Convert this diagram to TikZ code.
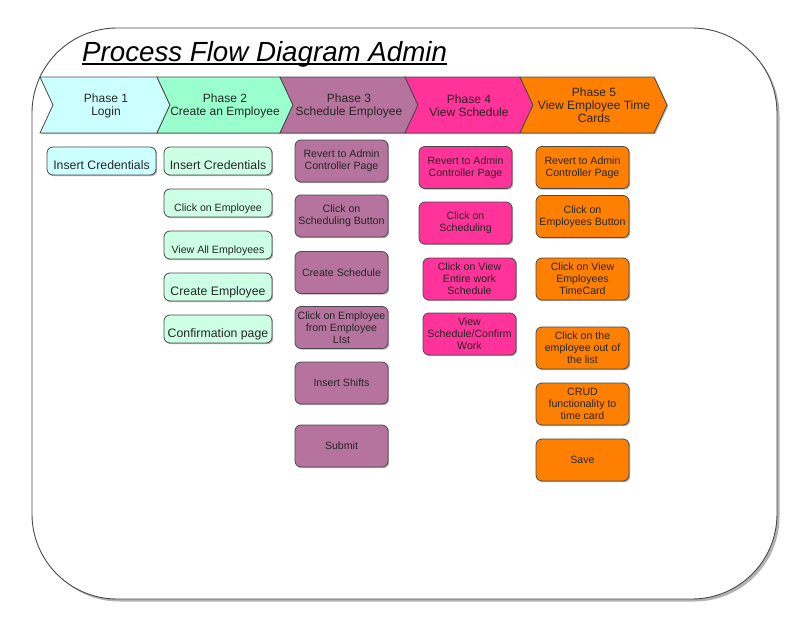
\documentclass[tikz,border=0pt]{standalone}
\usepackage{fontspec}
\setmainfont{Liberation Sans}
\usetikzlibrary{shadows}
\definecolor{pone}{HTML}{CCFFFF}
\definecolor{ptwo}{HTML}{99FFCC}
\definecolor{ptwobox}{HTML}{CCFFE6}
\definecolor{pthree}{HTML}{B5739D}
\definecolor{pfour}{HTML}{FF3399}
\definecolor{pfive}{HTML}{FF8000}
\definecolor{txt}{HTML}{262626}
\definecolor{edge}{HTML}{4A4A4A}
\newcommand{\lowtext}[1]{\raisebox{-8.2pt}[0pt][0pt]{#1}}
\newcommand{\lowsmall}[1]{\raisebox{-8.6pt}[0pt][0pt]{#1}}
\tikzset{
  shade3/.style={drop shadow={shadow xshift=1.2pt,shadow yshift=-1.2pt,fill=black,opacity=0.3}},
  chev/.style={draw=edge,line width=0.8pt,shade3},
  phasetext/.style={text=txt,align=center,inner sep=0pt,font=\fontsize{12}{12.8}\selectfont},
  stepbox/.style={draw=edge,line width=0.8pt,rounded corners=6pt,text=txt,align=center,inner sep=1pt,shade3},
  bigtext/.style={font=\fontsize{12.3}{13}\selectfont},
  smalltext/.style={font=\fontsize{10.6}{12}\selectfont},
  wA/.style={minimum width=109pt,minimum height=28pt},
  wB/.style={minimum width=108pt,minimum height=28pt},
  wC/.style={minimum width=93pt,minimum height=42pt},
}
\begin{document}
\begin{tikzpicture}[x=1pt,y=-1pt]
\useasboundingbox (0,0) rectangle (812,621);
% outer frame with shadow
\fill[black!30,rounded corners=85pt] (34.5,30.5) rectangle (779.5,601.5);
\draw[edge,fill=white,line width=0.9pt,rounded corners=85pt] (32,28) rectangle (777,599);
% title
\node[anchor=base west,inner sep=0pt,text=black] (title) at (82,61.5) {\fontsize{27.7}{30}\selectfont\itshape Process Flow Diagram Admin};
\draw[line width=1.3pt] ([yshift=-2.6pt]title.base west) -- ([yshift=-2.6pt]title.base east);
% phase chevrons
\draw[chev,fill=pone] (40,77) -- (157,77) -- (170,105) -- (157,133) -- (40,133) -- (53,105) -- cycle;
\draw[chev,fill=ptwo] (157,77) -- (280,77) -- (293,105) -- (280,133) -- (157,133) -- (170,105) -- cycle;
\draw[chev,fill=pthree] (280,77) -- (405,77) -- (418,105) -- (405,133) -- (280,133) -- (293,105) -- cycle;
\draw[chev,fill=pfour] (405,77) -- (520,77) -- (533,105) -- (520,133) -- (405,133) -- (418,105) -- cycle;
\draw[chev,fill=pfive] (520,77) -- (654,77) -- (667,105) -- (654,133) -- (520,133) -- (533,105) -- cycle;
\node[phasetext] (ph1) at (106,105.5) {Phase 1\\Login};
\node[phasetext] (ph2) at (225,105.5) {Phase 2\\Create an Employee};
\node[phasetext] (ph3) at (349,105.5) {Phase 3\\Schedule Employee};
\node[phasetext] (ph4) at (469,105.5) {Phase 4\\View Schedule};
\node[phasetext] (ph5) at (594,105) {Phase 5\\View Employee Time\\Cards};
% phase 1
\node[stepbox,wA,fill=pone,bigtext] (a1) at (101.5,161) {\lowtext{Insert Credentials}};
% phase 2
\node[stepbox,wB,fill=ptwobox,bigtext] (b1) at (218,161) {\lowtext{Insert Credentials}};
\node[stepbox,wB,fill=ptwobox,smalltext] (b2) at (218,203) {\lowsmall{Click on Employee}};
\node[stepbox,wB,fill=ptwobox,smalltext] (b3) at (218,245) {\lowsmall{View All Employees}};
\node[stepbox,wB,fill=ptwobox,bigtext] (b4) at (218,287) {\lowtext{Create Employee}};
\node[stepbox,wB,fill=ptwobox,bigtext] (b5) at (218,329) {\lowtext{Confirmation page}};
% phase 3
\node[stepbox,wC,fill=pthree,smalltext] (c1) at (341.5,161) {Revert to Admin\\Controller Page};
\node[stepbox,wC,fill=pthree,smalltext] (c2) at (341.5,216) {Click on\\Scheduling Button};
\node[stepbox,wC,fill=pthree,smalltext] (c3) at (341.5,272.5) {Create Schedule};
\node[stepbox,wC,fill=pthree,smalltext] (c4) at (341.5,327.5) {Click on Employee\\from Employee\\LIst};
\node[stepbox,wC,fill=pthree,smalltext] (c5) at (341.5,383) {Insert Shifts};
\node[stepbox,wC,fill=pthree,smalltext] (c6) at (341.5,446) {Submit};
% phase 4
\node[stepbox,wC,fill=pfour,smalltext] (d1) at (465.5,167.5) {Revert to Admin\\Controller Page};
\node[stepbox,wC,fill=pfour,smalltext] (d2) at (465.5,223) {Click on\\Scheduling};
\node[stepbox,wC,fill=pfour,smalltext] (d3) at (469.5,279) {Click on View\\Entire work\\Schedule};
\node[stepbox,wC,fill=pfour,smalltext] (d4) at (469.5,334) {View\\Schedule/Confirm\\Work};
% phase 5
\node[stepbox,wC,fill=pfive,smalltext] (e1) at (582.5,167.5) {Revert to Admin\\Controller Page};
\node[stepbox,wC,fill=pfive,smalltext] (e2) at (582.5,216.5) {Click on\\Employees Button};
\node[stepbox,wC,fill=pfive,smalltext] (e3) at (582.5,279) {Click on View\\Employees\\TimeCard};
\node[stepbox,wC,fill=pfive,smalltext] (e4) at (582.5,348) {Click on the\\employee out of\\the list};
\node[stepbox,wC,fill=pfive,smalltext] (e5) at (582.5,404) {CRUD\\functionality to\\time card};
\node[stepbox,wC,fill=pfive,smalltext] (e6) at (582.5,460) {Save};
\end{tikzpicture}
\end{document}
